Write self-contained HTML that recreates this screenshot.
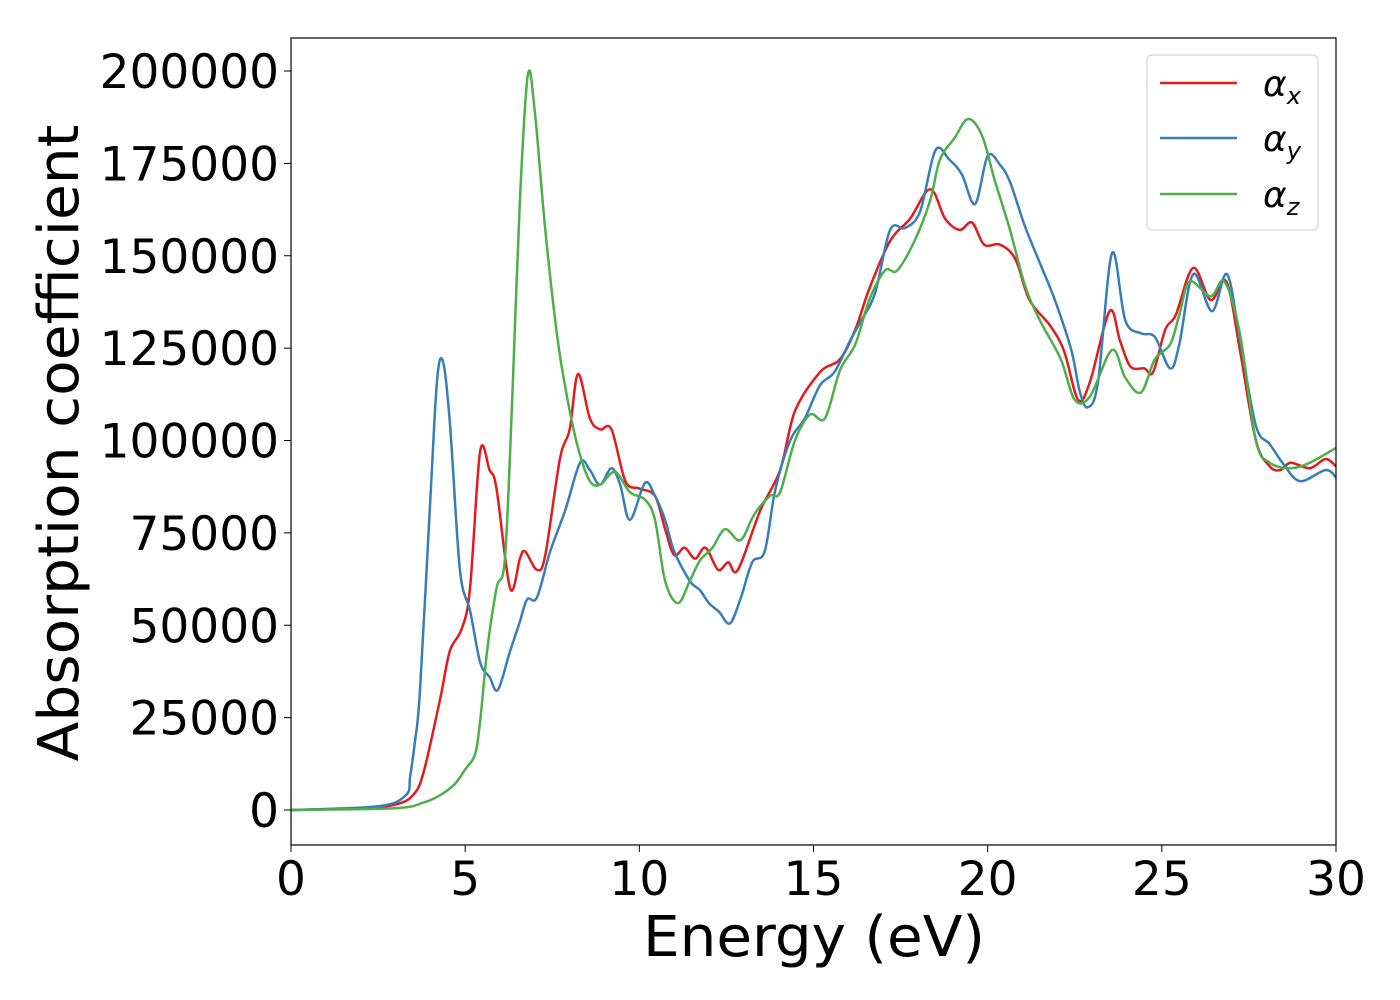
<!DOCTYPE html>
<html><head><meta charset="utf-8"><style>
body{margin:0;background:#fff}
svg{display:block;font-family:"DejaVu Sans","Liberation Sans",sans-serif}
</style></head><body>
<svg id="chart" width="1400" height="1000" viewBox="0 0 1400 1000" xmlns="http://www.w3.org/2000/svg">
<rect x="0" y="0" width="1400" height="1000" fill="#fff"/>
<g id="series"></g>
<g id="axes"></g>
<rect x="291" y="38" width="1045" height="807" fill="none" stroke="#000" stroke-width="1.2"/>
<text x="814" y="956" font-size="56" text-anchor="middle" textLength="342" lengthAdjust="spacingAndGlyphs">Energy (eV)</text>
<text transform="translate(78,443) rotate(-90)" font-size="56" text-anchor="middle" textLength="637" lengthAdjust="spacingAndGlyphs">Absorption coefficient</text>
<g>
<rect x="1147" y="55" width="171" height="175" rx="5" fill="#fff" stroke="#ccc" stroke-width="1"/>
<line x1="1160" y1="83" x2="1237" y2="83" stroke="#e41a1c" stroke-width="2.5"/>
<text x="1263" y="96" font-size="36" font-style="italic">α<tspan font-size="24" dy="8">x</tspan></text>
<line x1="1160" y1="138" x2="1237" y2="138" stroke="#377eb8" stroke-width="2.5"/>
<text x="1263" y="151" font-size="36" font-style="italic">α<tspan font-size="24" dy="8">y</tspan></text>
<line x1="1160" y1="194" x2="1237" y2="194" stroke="#4daf4a" stroke-width="2.5"/>
<text x="1263" y="207" font-size="36" font-style="italic">α<tspan font-size="24" dy="8">z</tspan></text>
</g>
</svg>
<script>
const xTicks=[0,5,10,15,20,25,30];
const yTicks=[0,25000,50000,75000,100000,125000,150000,175000,200000];
const energyX=[0,2,3,3.5,3.8,4.28,4.56,4.9,5.14,5.43,5.7,5.9,6.29,6.57,6.72,7.06,7.3,7.72,8.0,8.24,8.58,8.87,9.2,9.6,10.0,10.45,10.74,11.0,11.3,11.6,11.9,12.26,12.55,12.83,13.47,14.04,14.47,15.19,15.76,16.2,16.6,17.2,17.77,18.35,18.78,19.2,19.55,19.9,20.36,20.8,21.2,21.8,22.2,22.6,22.94,23.5,23.8,24.1,24.5,24.75,25.1,25.4,25.9,26.4,26.85,27.25,27.7,28.1,28.4,28.7,29.25,29.7,30];
const alphaX=[0,500,1500,4000,10000,30000,43000,49000,60000,97000,92000,87000,60000,68000,70000,65000,69000,95000,103000,118000,106000,103000,103000,89000,87000,85000,76000,69000,71000,68000,71000,65000,67000,65000,81000,92000,108000,118500,122000,130000,141000,154000,160000,168000,160000,157000,159000,153000,153000,149000,138000,131000,124000,111000,116000,135000,127000,120000,119500,118500,130000,134000,146700,138000,143000,124000,100000,93000,92000,94000,92500,95000,93000];
const energyY=[0,2.5,3.3,3.42,3.55,3.7,4.0,4.19,4.36,4.56,4.85,5.14,5.43,5.7,5.94,6.29,6.57,6.78,7.06,7.44,7.87,8.3,8.58,8.87,9.2,9.45,9.73,10.16,10.45,10.74,11.0,11.45,11.74,12.0,12.3,12.6,12.9,13.24,13.6,13.9,14.33,14.75,15.19,15.6,16.05,16.34,16.77,17.2,17.63,18.06,18.5,18.9,19.26,19.64,20.0,20.36,20.64,21.07,21.5,21.93,22.4,22.65,22.88,23.17,23.57,23.95,24.4,24.8,25.24,25.5,25.9,26.44,26.87,27.25,27.7,28.1,28.5,28.97,29.7,30];
const alphaY=[0,1000,4000,9000,18000,32000,84000,116000,121500,105000,65000,54000,40000,36000,32500,43000,51000,57000,57500,70000,81000,94000,92000,88000,92500,88000,78500,88500,85000,78500,70000,62000,59500,56000,53500,50500,57000,67000,70000,86500,100000,106000,115000,118500,127000,132000,140000,157000,157500,162000,178500,176000,172000,164000,177000,174500,170000,158000,148000,138000,124500,113000,109000,116000,150700,132500,129000,128000,119500,126000,145000,135000,145000,127000,104000,99000,93500,89000,92000,90000];
const energyZ=[0,3,3.8,4.28,4.7,5.0,5.28,5.43,5.63,5.9,6.14,6.35,6.57,6.8,7.0,7.3,7.66,8.0,8.3,8.58,8.87,9.3,9.73,10.16,10.45,10.74,11.11,11.45,11.74,12.1,12.46,12.9,13.3,13.75,14.04,14.47,14.9,15.33,15.76,16.2,16.6,17.05,17.4,17.9,18.35,18.63,19.06,19.44,19.84,20.2,20.64,21.07,21.5,22.1,22.5,22.94,23.57,23.95,24.4,24.8,25.24,25.5,25.8,26.4,26.8,27.25,27.7,28.1,28.7,29.25,30];
const alphaZ=[0,500,2000,4000,7000,11000,15000,24000,43000,60000,68000,111000,165000,199000,189000,157000,127000,108000,96000,89000,88000,91500,86000,84000,78500,62000,56000,62000,67500,71000,76000,73000,80000,85000,86000,100000,107000,106000,119000,126000,138000,146000,146000,154000,165000,176000,182000,187000,182500,170500,157000,142000,132500,122000,111000,112000,124500,117000,113000,122000,126000,134000,143000,139000,143000,128500,100000,94000,92500,94000,98000];

const X0=291,X1=1336,Y0=810,Ytop=71;
function sx(v){return X0+(v-0)/(30-0)*(X1-X0);}
function sy(v){return Y0-(v/200000)*(Y0-Ytop);}
const NS="http://www.w3.org/2000/svg";
const axes=document.getElementById('axes');
xTicks.forEach(t=>{
  const l=document.createElementNS(NS,'line');
  
  
  l.setAttribute('x1',sx(t));l.setAttribute('x2',sx(t));l.setAttribute('y1',845);l.setAttribute('y2',852);l.setAttribute('stroke','#000');
  axes.appendChild(l);
  const tx=document.createElementNS(NS,'text');
  
  
  tx.setAttribute('x',sx(t));tx.setAttribute('y',895);tx.setAttribute('font-size','47');tx.setAttribute('text-anchor','middle');
  tx.textContent=t;axes.appendChild(tx);
});
yTicks.forEach(t=>{
  const l=document.createElementNS(NS,'line');
  
  
  l.setAttribute('x1',284);l.setAttribute('x2',291);l.setAttribute('y1',sy(t));l.setAttribute('y2',sy(t));l.setAttribute('stroke','#000');
  axes.appendChild(l);
  const tx=document.createElementNS(NS,'text');
  
  
  tx.setAttribute('x',279);tx.setAttribute('y',sy(t)+17);tx.setAttribute('font-size','47');tx.setAttribute('text-anchor','end');
  tx.textContent=t;axes.appendChild(tx);
});
function path(xs,ys){
  const p=xs.map((x,i)=>[sx(x),sy(ys[i])]);
  let d='M'+p[0][0].toFixed(1)+','+p[0][1].toFixed(1);
  for(let i=0;i<p.length-1;i++){
    const a=p[Math.max(i-1,0)],b=p[i],c=p[i+1],e=p[Math.min(i+2,p.length-1)];
    const c1=[b[0]+(c[0]-a[0])/6,b[1]+(c[1]-a[1])/6];
    const c2=[c[0]-(e[0]-b[0])/6,c[1]-(e[1]-b[1])/6];
    d+='C'+c1[0].toFixed(1)+','+c1[1].toFixed(1)+' '+c2[0].toFixed(1)+','+c2[1].toFixed(1)+' '+c[0].toFixed(1)+','+c[1].toFixed(1);
  }
  return d;
}
const g=document.getElementById('series');
[[energyX,alphaX,'#e41a1c','series-alpha-x'],[energyY,alphaY,'#377eb8','series-alpha-y'],[energyZ,alphaZ,'#4daf4a','series-alpha-z']].forEach(s=>{
  const pa=document.createElementNS(NS,'path');
  
  
  pa.setAttribute('d',path(s[0],s[1]));pa.setAttribute('fill','none');pa.setAttribute('stroke',s[2]);pa.setAttribute('stroke-width','2.5');
  g.appendChild(pa);
});
</script>
</body></html>
